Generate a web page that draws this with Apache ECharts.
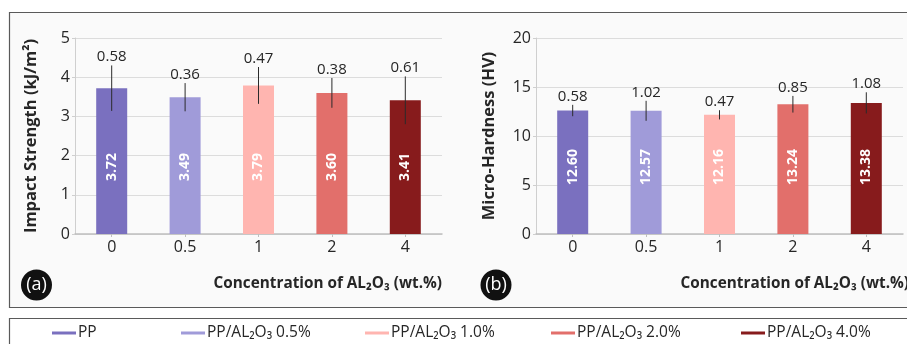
<!DOCTYPE html>
<html>
<head>
<meta charset="utf-8">
<script src="https://cdn.jsdelivr.net/npm/echarts@6/dist/echarts.min.js"></script>
<style>
  html, body { margin: 0; padding: 0; background: #ffffff; }
  #chart { width: 907px; height: 344px; }
</style>
</head>
<body>
<div id="chart"></div>
<script>
// Concentrations of Al2O3 filler (wt.%)
const categories = ['0', '0.5', '1', '2', '4'];
const sampleNames = ['PP', 'PP/AL₂O₃ 0.5%', 'PP/AL₂O₃ 1.0%', 'PP/AL₂O₃ 2.0%', 'PP/AL₂O₃ 4.0%'];
const sampleColors = ['#7a70bf', '#a09bd9', '#ffb5b0', '#e26f6b', '#871b1c'];

// (a) impact strength, kJ/m², mean and standard deviation
const impactMean = [3.72, 3.49, 3.79, 3.60, 3.41];
const impactSD = [0.58, 0.36, 0.47, 0.38, 0.61];

// (b) micro-hardness, HV, mean and standard deviation
const hardnessMean = [12.60, 12.57, 12.16, 13.24, 13.38];
const hardnessSD = [0.58, 1.02, 0.47, 0.85, 1.08];

const FONT = '"Open Sans", "DejaVu Sans", sans-serif';
const TEXT = '#262626';

function barSeries(means, axisIdx, stackName) {
  return sampleNames.map((name, i) => ({
    type: 'bar',
    name: name,
    xAxisIndex: axisIdx,
    yAxisIndex: axisIdx,
    stack: stackName,
    barWidth: 31,
    itemStyle: { color: sampleColors[i] },
    data: means.map((v, j) => (j === i ? v : '-')),
    label: {
      show: true,
      position: 'insideBottom',
      distance: 67,
      rotate: 90,
      align: 'center',
      verticalAlign: 'middle',
      color: '#ffffff',
      fontFamily: FONT,
      fontWeight: 'bold',
      fontSize: 14,
      formatter: p => Number(p.value).toFixed(2)
    }
  }));
}

function errorSeries(means, sds, axisIdx) {
  return {
    type: 'custom',
    xAxisIndex: axisIdx,
    yAxisIndex: axisIdx,
    silent: true,
    z: 5,
    data: means.map((m, i) => [i, m, sds[i]]),
    encode: { x: 0, y: 1 },
    renderItem: function (params, api) {
      const idx = api.value(0);
      const m = api.value(1);
      const sd = api.value(2);
      const top = api.coord([idx, m + sd]);
      const bot = api.coord([idx, m - sd]);
      return {
        type: 'group',
        children: [
          {
            type: 'line',
            shape: { x1: top[0], y1: top[1], x2: bot[0], y2: bot[1] },
            style: { stroke: '#2b2b2b', lineWidth: 1 }
          },
          {
            type: 'text',
            style: {
              text: sd.toFixed(2),
              x: top[0],
              y: top[1] - 1,
              align: 'center',
              verticalAlign: 'bottom',
              font: '15px ' + FONT,
              fill: TEXT
            }
          }
        ]
      };
    }
  };
}

function xAxisDef(gridIdx) {
  return {
    type: 'category',
    gridIndex: gridIdx,
    data: categories,
    axisLine: { lineStyle: { color: '#bfbfbf', width: 1.5 } },
    axisTick: { show: true, alignWithLabel: true, length: 3, lineStyle: { color: '#bfbfbf' } },
    axisLabel: { fontFamily: FONT, fontSize: 16, color: TEXT, margin: 5 },
    splitLine: { show: false }
  };
}

function yAxisDef(gridIdx, max, interval, name, gap) {
  return {
    type: 'value',
    gridIndex: gridIdx,
    min: 0,
    max: max,
    interval: interval,
    name: name,
    nameLocation: 'middle',
    nameGap: gap,
    nameTextStyle: { fontFamily: FONT, fontSize: 16.5, fontWeight: 'bold', color: TEXT },
    axisLine: { show: true, lineStyle: { color: '#cfcfcf' } },
    axisTick: { show: true, length: 3, lineStyle: { color: '#cfcfcf' } },
    axisLabel: { fontFamily: FONT, fontSize: 16, color: TEXT, margin: 5 },
    splitLine: { lineStyle: { color: '#dcdcdc' } }
  };
}

const legendLefts = [52, 181, 365, 551, 741];
const legends = sampleNames.map((name, i) => ({
  data: [name],
  left: legendLefts[i],
  top: 325,
  padding: 0,
  icon: 'rect',
  itemWidth: 24,
  itemHeight: 3,
  itemGap: 0,
  textStyle: { fontFamily: FONT, fontSize: 15.5, color: TEXT, padding: [0, 0, 0, -3] }
}));

const chart = echarts.init(document.getElementById('chart'), null, { renderer: 'canvas' });

chart.setOption({
  backgroundColor: '#ffffff',
  animation: false,
  graphic: [
    // panel frame
    {
      type: 'rect', z: -10, silent: true,
      shape: { x: 9.5, y: 12.5, width: 920, height: 295 },
      style: { fill: '#fafafa', stroke: '#5a5a5a', lineWidth: 1.2 }
    },
    // legend frame
    {
      type: 'rect', z: -10, silent: true,
      shape: { x: 9.5, y: 318.5, width: 920, height: 40 },
      style: { fill: '#ffffff', stroke: '#5a5a5a', lineWidth: 1.2 }
    },
    // panel tags
    { type: 'circle', silent: true, shape: { cx: 36.5, cy: 285, r: 15.5 }, style: { fill: '#111111' } },
    {
      type: 'text', silent: true,
      style: { text: '(a)', x: 36.5, y: 285, align: 'center', verticalAlign: 'middle', font: '18px ' + FONT, fill: '#ffffff' }
    },
    { type: 'circle', silent: true, shape: { cx: 496, cy: 285, r: 15.5 }, style: { fill: '#111111' } },
    {
      type: 'text', silent: true,
      style: { text: '(b)', x: 496, y: 285, align: 'center', verticalAlign: 'middle', font: '18px ' + FONT, fill: '#ffffff' }
    },
    // shared x-axis titles
    {
      type: 'text', silent: true,
      style: { text: 'Concentration of AL₂O₃ (wt.%)', x: 442, y: 284, align: 'right', verticalAlign: 'middle', font: 'bold 15.3px ' + FONT, fill: TEXT }
    },
    {
      type: 'text', silent: true,
      style: { text: 'Concentration of AL₂O₃ (wt.%)', x: 909, y: 284, align: 'right', verticalAlign: 'middle', font: 'bold 15.3px ' + FONT, fill: TEXT }
    }
  ],
  legend: legends,
  grid: [
    { left: 75, top: 38, width: 367, height: 196 },
    { left: 536, top: 38, width: 367, height: 196 }
  ],
  xAxis: [xAxisDef(0), xAxisDef(1)],
  yAxis: [
    yAxisDef(0, 5, 1, 'Impact Strength (kJ/m²)', 35),
    yAxisDef(1, 20, 5, 'Micro-Hardness (HV)', 38)
  ],
  series: [
    ...barSeries(impactMean, 0, 'impact'),
    ...barSeries(hardnessMean, 1, 'hardness'),
    errorSeries(impactMean, impactSD, 0),
    errorSeries(hardnessMean, hardnessSD, 1)
  ]
});
</script>
</body>
</html>
